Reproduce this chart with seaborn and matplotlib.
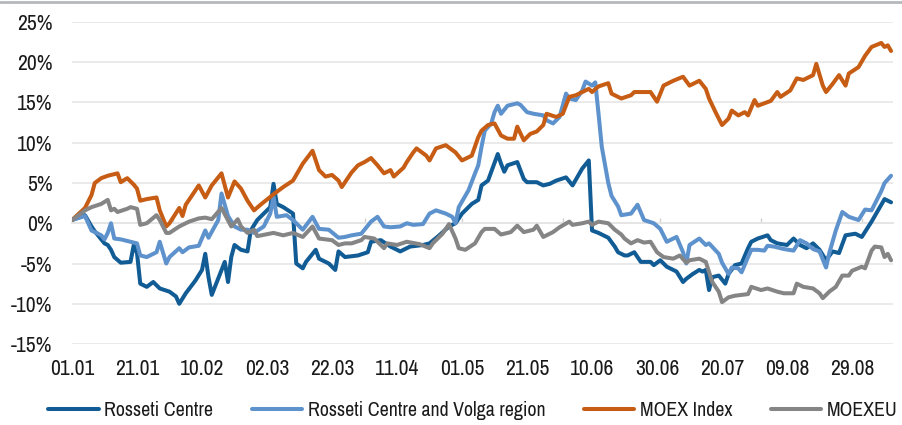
import pandas as pd
import matplotlib.pyplot as plt
from matplotlib import font_manager
from matplotlib.lines import Line2D
from matplotlib.ticker import FuncFormatter, MultipleLocator
import seaborn as sns

# Days since 01.01.2019 and cumulative change, %
rc_days = [0, 4, 6, 7, 10, 11, 12, 13, 15, 18, 19, 20, 21, 23, 25, 27, 30, 32, 33, 35,
           38, 40, 41, 42, 43, 46, 47, 48, 49, 50, 52, 54, 55, 57, 59, 61, 62, 63, 65, 68,
           69, 71, 72, 75, 76, 79, 81, 82, 84, 88, 91, 92, 95, 98, 101, 104, 108, 110, 113, 116,
           118, 120, 123, 125, 126, 128, 129, 131, 132, 133, 134, 137, 139, 140, 143, 145, 147, 149, 152, 154,
           157, 159, 160, 162, 165, 167, 168, 170, 171, 173, 175, 178, 179, 181, 183, 186, 188, 189, 191, 193,
           194, 195, 196, 197, 199, 201, 202, 204, 206, 208, 209, 211, 214, 215, 217, 220, 222, 224, 226, 228,
           230, 232, 234, 236, 238, 241, 243, 246, 248, 250, 252]
rc_vals = [0.4, 1.0, -0.4, -1.0, -2.5, -2.7, -3.3, -4.2, -4.9, -4.8, -2.7, -3.7, -7.5, -7.9, -7.3, -8.1, -8.5, -9.1, -10.0, -8.7,
           -7.1, -5.8, -3.8, -6.7, -8.9, -5.8, -4.8, -7.3, -4.2, -2.7, -3.3, -3.5, -0.9, 0.4, 1.2, 2.0, 4.9, 2.4, 2.0, 1.2,
           -5.0, -5.6, -4.8, -3.3, -4.4, -5.0, -5.8, -3.5, -4.2, -4.0, -3.6, -2.3, -2.1, -2.9, -3.5, -2.9, -2.7, -2.5, -1.5, -0.4,
           0.0, 1.2, 2.4, 2.9, 4.7, 5.3, 6.4, 8.6, 7.4, 6.4, 7.2, 7.6, 5.5, 5.1, 5.1, 4.7, 4.9, 5.3, 5.7, 4.7,
           6.8, 7.8, -0.9, -1.2, -1.8, -2.9, -3.6, -4.0, -4.0, -3.6, -4.8, -4.8, -5.2, -4.6, -5.4, -6.0, -7.3, -6.9, -6.3, -5.8,
           -6.0, -5.8, -8.3, -6.7, -6.5, -7.5, -6.3, -5.2, -5.0, -3.1, -2.3, -1.9, -1.5, -2.1, -2.5, -2.7, -1.9, -2.7, -3.1, -2.5,
           -3.3, -4.6, -3.5, -3.7, -1.5, -1.3, -1.7, 0.2, 1.6, 3.0, 2.6]

rcv_days = [0, 4, 6, 9, 10, 11, 12, 13, 15, 18, 20, 21, 23, 26, 27, 29, 30, 33, 34, 36,
            39, 41, 42, 45, 46, 48, 50, 52, 54, 56, 59, 61, 62, 63, 66, 68, 71, 74, 76, 79,
            82, 84, 86, 89, 92, 94, 96, 98, 101, 103, 105, 108, 110, 112, 115, 117, 118, 119, 122, 124,
            125, 126, 127, 129, 130, 131, 132, 134, 137, 138, 140, 142, 145, 146, 148, 150, 152, 153, 155, 157,
            158, 160, 161, 162, 163, 165, 166, 168, 169, 172, 174, 176, 179, 181, 183, 186, 188, 189, 190, 193,
            195, 196, 199, 200, 202, 203, 205, 206, 208, 209, 211, 213, 214, 216, 219, 222, 224, 226, 228, 230,
            232, 233, 235, 237, 239, 242, 244, 246, 249, 250, 252]
rcv_vals = [0.4, 0.9, -0.9, -1.5, -2.0, -1.2, 0.0, -1.9, -2.0, -2.3, -2.5, -4.0, -4.2, -3.6, -2.3, -5.0, -4.2, -3.1, -3.6, -3.0,
            -2.8, -0.9, -1.8, 0.4, 3.7, 0.9, -0.4, -0.8, -0.8, -1.2, -0.4, 1.2, 3.3, 0.8, 1.0, 0.4, -0.8, 0.8, -0.7, -0.8,
            -1.8, -1.7, -1.5, -1.3, 0.2, 0.8, -0.4, -0.5, -0.4, 0.0, -0.2, -0.1, 1.2, 1.6, 1.2, 0.8, 0.0, 2.0, 4.1, 6.2,
            7.2, 9.5, 11.5, 12.4, 13.8, 14.6, 13.6, 14.6, 14.9, 14.7, 13.8, 13.6, 13.4, 12.8, 12.4, 13.2, 16.1, 15.5, 15.3, 16.5,
            17.6, 17.1, 17.5, 13.6, 9.5, 5.0, 3.4, 2.1, 1.0, 1.2, 2.3, 0.4, 0.0, -0.7, -2.3, -1.7, -3.6, -5.0, -2.7, -1.9,
            -2.7, -2.5, -3.8, -4.9, -6.3, -5.5, -5.6, -6.1, -4.2, -3.3, -3.3, -3.4, -2.8, -2.9, -3.2, -3.4, -2.1, -2.5, -3.2, -3.5,
            -5.5, -3.7, -0.9, 1.4, 0.8, 0.4, 1.7, 1.6, 4.0, 5.0, 5.9]

moex_days = [0, 4, 6, 7, 9, 11, 14, 15, 17, 19, 20, 21, 23, 26, 27, 29, 30, 33, 34, 35,
             39, 41, 43, 46, 48, 50, 52, 54, 56, 58, 62, 65, 68, 71, 74, 76, 78, 80, 82, 83,
             86, 88, 90, 92, 94, 96, 98, 99, 102, 103, 105, 106, 109, 110, 112, 115, 118, 120, 123, 125,
             126, 128, 130, 132, 134, 136, 137, 139, 141, 143, 145, 146, 149, 151, 153, 155, 157, 159, 160, 162,
             165, 166, 169, 172, 173, 178, 180, 182, 185, 188, 190, 193, 195, 196, 198, 200, 202, 203, 205, 207,
             208, 210, 211, 215, 217, 218, 221, 223, 225, 228, 229, 231, 232, 234, 236, 238, 239, 242, 244, 246,
             249, 250, 251, 252]
moex_vals = [0.4, 1.9, 3.5, 5.0, 5.6, 5.9, 6.2, 5.1, 5.6, 4.8, 4.3, 2.8, 3.0, 3.2, 1.6, -0.4, 0.0, 1.9, 0.9, 2.3,
             4.7, 3.2, 4.7, 6.2, 3.2, 5.2, 4.3, 2.8, 1.6, 2.3, 3.6, 4.5, 5.3, 7.4, 9.0, 6.6, 5.8, 6.0, 5.3, 4.5,
             6.3, 7.2, 7.6, 8.1, 7.2, 6.2, 6.6, 5.8, 6.9, 7.6, 8.8, 9.3, 8.4, 7.8, 9.3, 9.7, 8.8, 7.8, 8.4, 10.7,
             11.5, 12.2, 12.4, 10.9, 10.5, 10.5, 12.0, 10.3, 11.1, 11.4, 12.2, 13.6, 13.2, 13.6, 15.7, 15.9, 16.3, 16.7, 16.3, 17.0,
             17.4, 16.1, 15.5, 15.9, 16.3, 16.3, 15.1, 17.1, 17.7, 18.2, 17.1, 17.7, 16.7, 15.5, 13.8, 12.2, 13.0, 14.0, 13.4, 13.8,
             13.4, 15.3, 14.6, 15.2, 16.3, 15.7, 16.5, 18.0, 17.8, 18.4, 19.8, 17.1, 16.3, 17.3, 18.4, 17.1, 18.6, 19.4, 20.8, 21.9,
             22.4, 21.9, 22.1, 21.4]

eu_days = [0, 4, 6, 9, 11, 12, 13, 14, 17, 18, 20, 21, 23, 26, 27, 29, 30, 33, 36, 39,
           41, 43, 46, 49, 51, 52, 54, 56, 57, 62, 65, 68, 71, 74, 76, 80, 82, 84, 86, 89,
           90, 93, 96, 97, 100, 103, 107, 110, 111, 114, 116, 118, 119, 121, 124, 126, 127, 130, 132, 135,
           137, 139, 142, 143, 145, 148, 150, 153, 154, 157, 159, 160, 162, 165, 167, 169, 170, 172, 174, 176,
           178, 180, 182, 185, 187, 189, 190, 193, 195, 197, 199, 200, 202, 204, 208, 209, 212, 214, 217, 219,
           222, 223, 225, 228, 230, 231, 233, 235, 237, 239, 240, 243, 244, 246, 247, 249, 250, 251, 252]
eu_vals = [0.4, 1.6, 2.0, 2.4, 2.9, 1.6, 1.8, 1.4, 1.8, 2.0, 1.8, -0.2, 0.0, 1.0, 0.4, -1.2, -1.2, -0.4, 0.2, 0.6,
           0.7, 0.5, 1.9, -0.4, 0.5, -0.4, -1.2, -0.8, -1.6, -1.2, -1.5, -1.2, -1.7, -0.4, -1.9, -2.1, -2.7, -2.5, -2.5, -2.1,
           -1.7, -1.9, -3.1, -2.5, -2.7, -2.3, -2.6, -3.1, -2.5, -1.3, -0.1, -1.9, -3.1, -3.3, -2.5, -1.1, -0.7, -0.7, -1.4, -1.1,
           -0.3, -1.1, -0.8, -0.3, -1.7, -1.1, -0.5, 0.2, -0.2, 0.0, 0.2, -0.2, 0.2, 0.0, -0.8, -1.4, -1.9, -2.5, -2.1, -2.4,
           -2.3, -3.6, -4.2, -4.4, -4.0, -4.9, -4.6, -4.4, -4.8, -7.3, -8.5, -9.8, -9.2, -9.0, -8.8, -7.9, -8.3, -8.1, -8.5, -8.7,
           -8.7, -7.5, -7.9, -8.1, -8.7, -9.3, -8.5, -7.9, -6.5, -6.5, -5.9, -5.4, -5.6, -3.4, -2.9, -3.0, -4.2, -3.8, -4.6]

series_names = ["Rosseti Centre", "Rosseti Centre and Volga region", "MOEX Index", "MOEXEU"]
series_colors = ["#125c96", "#5e92cc", "#c75d14", "#858585"]
x_tick_labels = ["01.01", "21.01", "10.02", "02.03", "22.03", "11.04", "01.05",
                 "21.05", "10.06", "30.06", "20.07", "09.08", "29.08"]

start = pd.Timestamp("2019-01-01")
frames = []
for name, days, vals in zip(series_names,
                            [rc_days, rcv_days, moex_days, eu_days],
                            [rc_vals, rcv_vals, moex_vals, eu_vals]):
    frames.append(pd.DataFrame({
        "date": start + pd.to_timedelta(days, unit="D"),
        "value": vals,
        "series": name,
    }))
df = pd.concat(frames, ignore_index=True)

sns.set_theme(style="white")

# look for a narrow font, the original uses a condensed face
fonts = font_manager.fontManager.ttflist
narrow = [f for f in fonts if "Condensed" in f.name or "Narrow" in f.name]
tick_size, legend_size = 15.5, 14.3
if narrow:
    plt.rcParams["font.family"] = [narrow[0].name, "DejaVu Sans"]
else:
    plt.rcParams["font.family"] = ["Roboto", "DejaVu Sans"]
    tick_size, legend_size = 13, 12.5

fig = plt.figure(figsize=(9.03, 4.25), dpi=100)
ax = fig.add_axes([72 / 903, 1 - 344 / 425, (893 - 72) / 903, (344 - 22) / 425])

sns.lineplot(data=df, x="date", y="value", hue="series", hue_order=series_names,
             palette=series_colors, linewidth=2.9, estimator=None, sort=False, ax=ax)

# axes
ax.set_ylim(-15, 25)
ax.yaxis.set_major_locator(MultipleLocator(5))
ax.yaxis.set_major_formatter(FuncFormatter(lambda v, p: f"{v:.0f}%"))
ax.set_xlim(start, start + pd.Timedelta(days=252.6))
x_ticks = [start + pd.Timedelta(days=20 * i) for i in range(len(x_tick_labels))]
ax.set_xticks(x_ticks)
ax.set_xticklabels(x_tick_labels)
ax.set_xlabel("")
ax.set_ylabel("")
ax.tick_params(axis="both", length=0, labelsize=tick_size, colors="#1a1a1a")
ax.tick_params(axis="y", pad=14)
ax.tick_params(axis="x", pad=11)
for s in ax.spines.values():
    s.set_visible(False)
ax.yaxis.grid(True, color="#e6e6e6", linewidth=1.2)
ax.xaxis.grid(False)
ax.set_axisbelow(True)

# small month ticks on the zero line
sec = ax.secondary_xaxis(15 / 40)
sec.set_xticks(pd.date_range(start, periods=9, freq="MS"))
sec.tick_params(axis="x", direction="in", length=3.5, width=1, color="#d0d0d0",
                labelbottom=False, labeltop=False)
sec.spines["bottom"].set_color("#e0e0e0")
sec.spines["top"].set_visible(False)

# legend under the plot
handles, labels = ax.get_legend_handles_labels()
ax.get_legend().remove()
fig.legend(handles, labels, loc="center left", bbox_to_anchor=(48 / 903, 0.034), ncol=4, frameon=False,
           fontsize=legend_size, handlelength=2.55, handletextpad=0.28, columnspacing=1.93,
           borderpad=0, borderaxespad=0, labelcolor="#1a1a1a")

# thin grey line at the very top
fig.add_artist(Line2D([0, 1], [0.995, 0.995], transform=fig.transFigure, color="#b4b8bd", linewidth=2))

fig.savefig("out.png", dpi=100)
